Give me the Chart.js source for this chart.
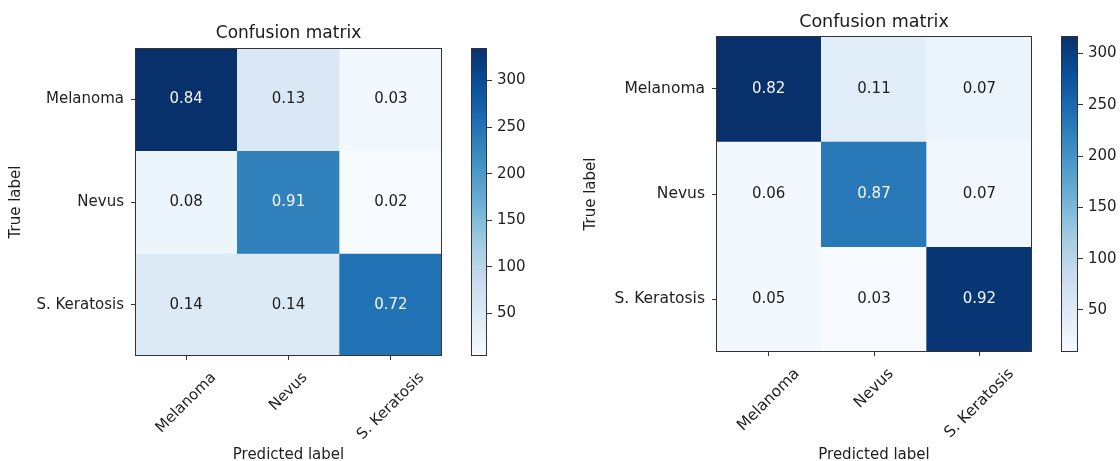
<!DOCTYPE html>
<html>
<head>
<meta charset="utf-8">
<script src="https://cdn.jsdelivr.net/npm/chart.js@4.4.0/dist/chart.umd.min.js"></script>
<style>
html, body { margin: 0; padding: 0; background: #fff; overflow: hidden; }
#wrap { position: relative; width: 1120px; height: 461px; }
canvas { position: absolute; top: 0; }
</style>
</head>
<body>
<div id="wrap">
  <canvas id="cmLeft" width="460" height="464" style="left:0px"></canvas>
  <canvas id="cbLeft" width="100" height="464" style="left:460px"></canvas>
  <canvas id="cmRight" width="475" height="464" style="left:575px"></canvas>
  <canvas id="cbRight" width="70" height="464" style="left:1050px"></canvas>
</div>
<script>
var classes = ['Melanoma', 'Nevus', 'S. Keratosis'];

// values printed in the cells (rows = true label, cols = predicted)
var normLeft = [[0.84, 0.13, 0.03], [0.08, 0.91, 0.02], [0.14, 0.14, 0.72]];
var normRight = [[0.82, 0.11, 0.07], [0.06, 0.87, 0.07], [0.05, 0.03, 0.92]];

// counts behind the colours
var countsLeft = [[335, 52, 12], [20, 232, 4], [49, 49, 251]];
var countsRight = [[317, 43, 27], [16, 231, 19], [17, 9, 310]];

var cbTicks = [50, 100, 150, 200, 250, 300];

var FONT = "'DejaVu Sans', sans-serif";
var INK = '#1e1e1e';

// matplotlib "Blues"
var bluesStops = [[247, 251, 255], [222, 235, 247], [198, 219, 239], [158, 202, 225],
  [107, 174, 214], [66, 146, 198], [33, 113, 181], [8, 81, 156], [8, 48, 107]];

function blues(t) {
  t = Math.max(0, Math.min(1, t)) * (bluesStops.length - 1);
  var i = Math.min(Math.floor(t), bluesStops.length - 2);
  var f = t - i, a = bluesStops[i], b = bluesStops[i + 1];
  return 'rgb(' + [0, 1, 2].map(function (k) { return Math.round(a[k] + (b[k] - a[k]) * f); }).join(',') + ')';
}

function range(counts) {
  var flat = [].concat.apply([], counts);
  return [Math.min.apply(null, flat), Math.max.apply(null, flat)];
}

var frame = {
  id: 'frame',
  afterDraw: function (chart) {
    var a = chart.chartArea, ctx = chart.ctx;
    ctx.save();
    ctx.strokeStyle = '#333';
    ctx.lineWidth = 1;
    ctx.strokeRect(Math.round(a.left) + 0.5, Math.round(a.top) + 0.5,
      Math.round(a.right - a.left) - 1, Math.round(a.bottom - a.top) - 1);
    ctx.restore();
  }
};

function matrixChart(id, counts, norm, o) {
  var lohi = range(counts), lo = lohi[0], hi = lohi[1];

  var datasets = counts.map(function (row, r) {
    return {
      label: classes[r],
      data: row.map(function () { return [r, r + 1]; }),
      backgroundColor: row.map(function (v) { return blues((v - lo) / (hi - lo)); }),
      borderWidth: 0,
      grouped: false,
      barPercentage: 1,
      categoryPercentage: 1
    };
  });

  var cellText = {
    id: 'cellText',
    afterDatasetsDraw: function (chart) {
      var ctx = chart.ctx;
      ctx.save();
      ctx.font = o.cellSize + 'px ' + FONT;
      ctx.textAlign = 'center';
      ctx.textBaseline = 'middle';
      chart.data.datasets.forEach(function (ds, r) {
        chart.getDatasetMeta(r).data.forEach(function (bar, c) {
          ctx.fillStyle = counts[r][c] > hi / 2 ? '#f3f6fa' : INK;
          ctx.fillText(norm[r][c].toFixed(2), bar.x, (bar.y + bar.base) / 2);
        });
      });
      ctx.restore();
    }
  };

  // rotated 45deg, box centred on the tick like matplotlib
  var xLabels = {
    id: 'xLabels',
    afterDraw: function (chart) {
      var s = chart.scales.x, ctx = chart.ctx;
      ctx.save();
      ctx.font = o.tickSize + 'px ' + FONT;
      ctx.fillStyle = INK;
      ctx.textAlign = 'center';
      ctx.textBaseline = 'middle';
      classes.forEach(function (lab, i) {
        var x = s.getPixelForTick(i);
        var half = (ctx.measureText(lab).width + o.tickSize) * Math.SQRT1_2 / 2;
        ctx.save();
        ctx.translate(x, s.top + o.labelGap + half);
        ctx.rotate(-Math.PI / 4);
        ctx.fillText(lab, 0, 0);
        ctx.restore();
      });
      ctx.restore();
    }
  };

  return new Chart(document.getElementById(id), {
    type: 'bar',
    data: { labels: classes, datasets: datasets },
    options: {
      responsive: false,
      animation: false,
      devicePixelRatio: 1,
      layout: { padding: { left: 0, right: o.padRight, top: o.padTop, bottom: 0 } },
      plugins: {
        legend: { display: false },
        tooltip: { enabled: false },
        title: {
          display: true,
          fullSize: false,
          text: 'Confusion matrix',
          color: '#1a1a1a',
          font: { family: FONT, size: o.titleSize, weight: 'normal' },
          padding: { top: 0, bottom: o.titleGap }
        }
      },
      scales: {
        x: {
          type: 'category',
          offset: true,
          grid: { offset: false, drawOnChartArea: false, tickLength: 4, color: '#333' },
          border: { display: false },
          ticks: { display: false },
          title: {
            display: true, text: 'Predicted label', color: INK,
            font: { family: FONT, size: 15 }, padding: 0
          },
          afterFit: function (s) { s.height = o.xHeight; }
        },
        y: {
          type: 'linear',
          min: 0,
          max: classes.length,
          reverse: true,
          afterBuildTicks: function (s) {
            s.ticks = classes.map(function (c, i) { return { value: i + 0.5 }; });
          },
          grid: { drawOnChartArea: false, tickLength: 4, color: '#333' },
          border: { display: false },
          ticks: {
            padding: 7,
            color: INK,
            font: { family: FONT, size: o.tickSize },
            callback: function (v) { return classes[Math.floor(v)]; }
          },
          title: {
            display: true, text: 'True label', color: INK,
            font: { family: FONT, size: 15 }, padding: { top: o.yTitleGap, bottom: 0 }
          },
          afterFit: function (s) { s.width = o.yWidth; }
        }
      }
    },
    plugins: [cellText, xLabels, frame]
  });
}

function colorbarChart(id, counts, o) {
  var lohi = range(counts), lo = lohi[0], hi = lohi[1];

  return new Chart(document.getElementById(id), {
    type: 'bar',
    data: {
      labels: [''],
      datasets: [{
        data: [[lo, hi]],
        backgroundColor: function (c) {
          var a = c.chart.chartArea;
          if (!a) return blues(0.5);
          var g = c.chart.ctx.createLinearGradient(0, a.bottom, 0, a.top);
          bluesStops.forEach(function (s, i) {
            g.addColorStop(i / (bluesStops.length - 1), 'rgb(' + s.join(',') + ')');
          });
          return g;
        },
        borderWidth: 0,
        barPercentage: 1,
        categoryPercentage: 1
      }]
    },
    options: {
      responsive: false,
      animation: false,
      devicePixelRatio: 1,
      layout: { padding: { left: o.padLeft, right: 0, top: o.top, bottom: o.bottom } },
      plugins: { legend: { display: false }, tooltip: { enabled: false } },
      scales: {
        x: { display: false, offset: true },
        y: {
          position: 'right',
          min: lo,
          max: hi,
          afterBuildTicks: function (s) {
            s.ticks = cbTicks.map(function (v) { return { value: v }; });
          },
          grid: { drawOnChartArea: false, tickLength: 5, color: '#333' },
          border: { display: false },
          ticks: { padding: 5, color: INK, font: { family: FONT, size: o.tickSize } },
          afterFit: function (s) { s.width = o.axisWidth; }
        }
      }
    },
    plugins: [frame]
  });
}

matrixChart('cmLeft', countsLeft, normLeft, {
  padTop: 23, padRight: 18, titleSize: 17, titleGap: 4.6,
  tickSize: 15, cellSize: 15, yWidth: 135, yTitleGap: 7, xHeight: 108, labelGap: 14
});
colorbarChart('cbLeft', countsLeft, { padLeft: 11, top: 48, bottom: 108, axisWidth: 73, tickSize: 15 });

matrixChart('cmRight', countsRight, normRight, {
  padTop: 11.5, padRight: 18, titleSize: 17.5, titleGap: 3.5,
  tickSize: 15.5, cellSize: 15, yWidth: 141, yTitleGap: 7, xHeight: 112, labelGap: 14
});
colorbarChart('cbRight', countsRight, { padLeft: 11, top: 36, bottom: 112, axisWidth: 42, tickSize: 15 });
</script>
</body>
</html>
